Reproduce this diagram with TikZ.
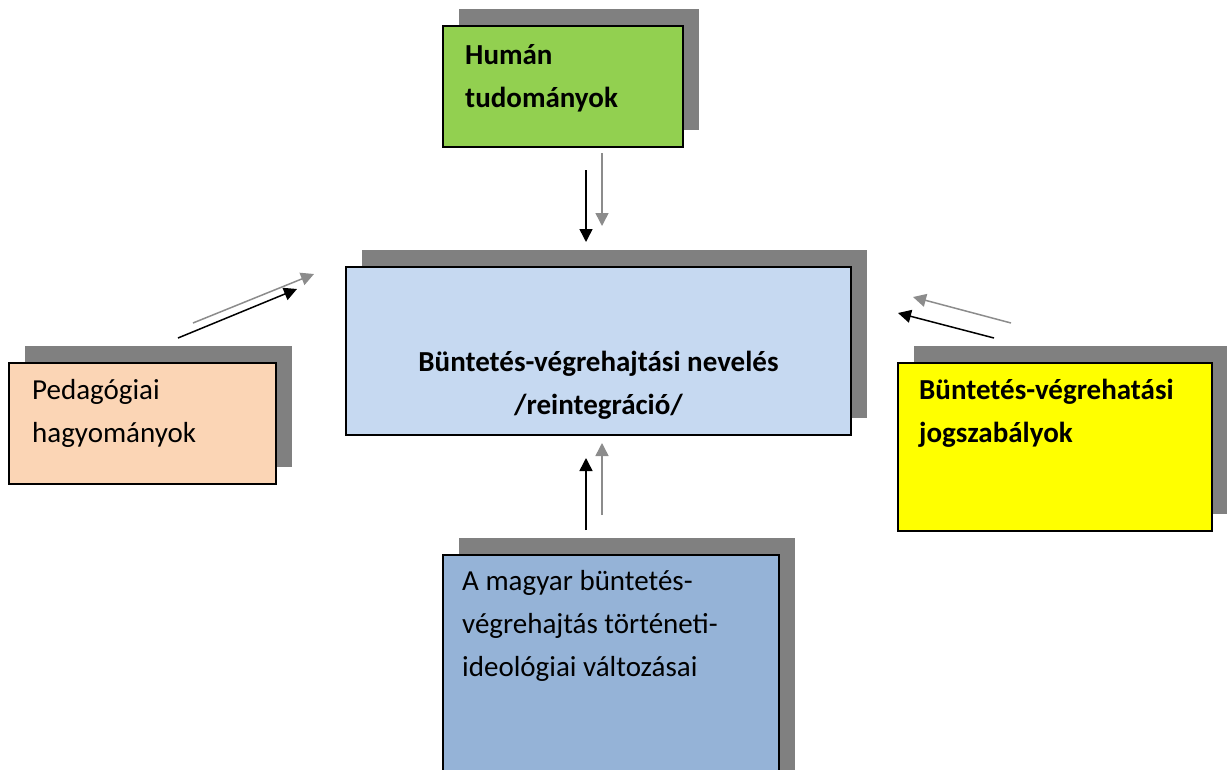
\documentclass[tikz,border=0pt]{standalone}
\usepackage{fontspec}
\setmainfont{Carlito}
\usetikzlibrary{positioning,shadows,arrows.meta}
\definecolor{humgreen}{HTML}{92D050}
\definecolor{nevblue}{HTML}{C6D9F1}
\definecolor{pedpeach}{HTML}{FBD5B5}
\definecolor{jogyellow}{HTML}{FFFF00}
\definecolor{tortblue}{HTML}{95B3D7}
\definecolor{shadowgray}{HTML}{808080}
\definecolor{arrowgray}{HTML}{8C8C8C}

\begin{document}
\begin{tikzpicture}[x=1pt,y=-1pt,
  panel/.style={rectangle,draw,line width=2pt,inner sep=0pt,anchor=north west,
    copy shadow={shadow xshift=16pt,shadow yshift=17pt,fill=shadowgray,draw=none}},
  txt/.style={inner sep=0pt,align=left,anchor=base west,font=\fontsize{29}{43}\selectfont},
  btxt/.style={txt,font=\fontsize{29}{43}\selectfont\bfseries},
  blk/.style={line width=1.5pt,-{Triangle[length=13pt,width=13pt]}},
  gry/.style={blk,arrowgray}]
\clip (0,0) rectangle (1227,769);

\node[panel,fill=humgreen,minimum width=240pt,minimum height=121pt] (hum) at (442,25) {};
\node[panel,fill=nevblue,minimum width=505pt,minimum height=168pt] (nev) at (345,266) {};
\node[panel,fill=pedpeach,minimum width=267pt,minimum height=121pt] (ped) at (8,362) {};
\node[panel,fill=jogyellow,minimum width=314pt,minimum height=168pt] (jog) at (897,362) {};
\node[panel,fill=tortblue,minimum width=336pt,minimum height=240pt] (tort) at (442,554) {};

% base anchor = last line
\node[btxt] (humtxt) at ([shift={(23,82)}]hum.north west) {Humán\\tudományok};
\node[btxt,align=center,anchor=base] (nevtxt) at ([shift={(0,148)}]nev.north)
  {Büntetés-végrehajtási nevelés\\/reintegráció/};
\node[txt] (pedtxt) at ([shift={(24,80)}]ped.north west) {Pedagógiai\\hagyományok};
\node[btxt] (jogtxt) at ([shift={(22,80)}]jog.north west) {Büntetés-végrehatási\\jogszabályok};
\node[txt] (torttxt) at ([shift={(20,122)}]tort.north west)
  {A magyar büntetés-\\végrehajtás történeti-\\ideológiai változásai};

\coordinate (humA) at (586,170); \coordinate (humB) at (586,242);
\coordinate (humC) at (602,153); \coordinate (humD) at (602,226);
\coordinate (tortA) at (586,530); \coordinate (tortB) at (586,458);
\coordinate (tortC) at (602,515); \coordinate (tortD) at (602,443);
\coordinate (pedA) at (178,338); \coordinate (pedB) at (297,289);
\coordinate (pedC) at (193,323); \coordinate (pedD) at (314,274);
\coordinate (jogA) at (994,338); \coordinate (jogB) at (898,313);
\coordinate (jogC) at (1011,323); \coordinate (jogD) at (913,297);

\draw[blk] (humA) -- (humB);
\draw[gry] (humC) -- (humD);
\draw[blk] (tortA) -- (tortB);
\draw[gry] (tortC) -- (tortD);
\draw[blk] (pedA) -- (pedB);
\draw[gry] (pedC) -- (pedD);
\draw[blk] (jogA) -- (jogB);
\draw[gry] (jogC) -- (jogD);
\end{tikzpicture}
\end{document}
